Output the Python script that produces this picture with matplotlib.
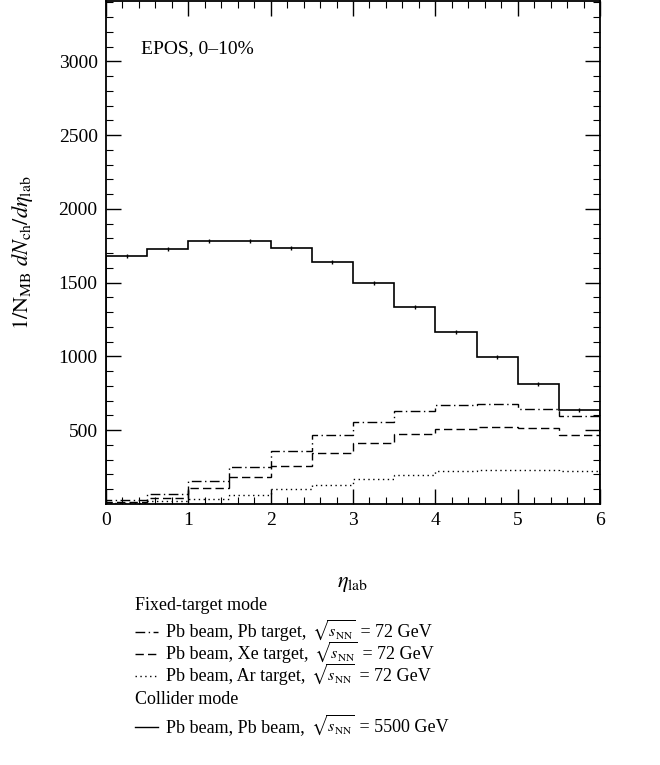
import numpy as np
import matplotlib
matplotlib.use('Agg')
import matplotlib.pyplot as plt
from matplotlib.lines import Line2D

plt.rcParams['font.family'] = ['Liberation Serif', 'DejaVu Serif']
plt.rcParams['mathtext.fontset'] = 'stix'
plt.rcParams['font.size'] = 13

# eta_lab bin edges (0.5 wide bins)
edges = np.arange(0, 6.01, 0.5)

# EPOS, 0-10% centrality
pbpb_collider = [1682, 1727, 1784, 1784, 1734, 1639, 1500, 1338, 1168, 998, 813, 636]
pbpb_fixed = [25, 70, 156, 251, 360, 471, 554, 627, 668, 675, 645, 595]
pbxe_fixed = [15, 43, 108, 183, 260, 346, 414, 473, 507, 520, 516, 471]
pbar_fixed = [8, 20, 31, 58, 99, 131, 169, 196, 226, 230, 228, 226]

fig = plt.figure(figsize=(6.6, 7.65), dpi=100)
ax = fig.add_axes([0.1606, 0.3412, 0.7485, 0.6575])

ax.stairs(pbpb_fixed, edges, color='black', lw=1.0, linestyle=(0, (7, 2.5, 1, 2.5)))
ax.stairs(pbxe_fixed, edges, color='black', lw=1.0, linestyle=(0, (6, 3)))
ax.stairs(pbar_fixed, edges, color='black', lw=1.0, linestyle=(0, (1, 2.5)))
ax.stairs(pbpb_collider, edges, color='black', lw=1.2)
centers = 0.5 * (edges[:-1] + edges[1:])
ax.plot(centers, pbpb_collider, '|', color='black', ms=3, mew=1.0)

ax.set_xlim(0, 6)
ax.set_ylim(0, 3410)
ax.set_xticks(range(0, 7))
ax.set_xticks(np.arange(0, 6.01, 0.2), minor=True)
ax.set_yticks(range(500, 3001, 500))
ax.set_yticks(range(100, 3401, 100), minor=True)
ax.tick_params(which='both', direction='in', top=True, right=True, labelsize=14)
ax.tick_params(which='major', length=11, width=1.0, pad=6)
ax.tick_params(which='minor', length=5, width=0.8)
for sp in ax.spines.values():
    sp.set_linewidth(1.3)

ax.set_xlabel(r'$\eta_{\mathrm{lab}}$', fontsize=16)
ax.set_ylabel(r'$1/\mathrm{N}_{\mathrm{MB}}\ dN_{\mathrm{ch}}/d\eta_{\mathrm{lab}}$', fontsize=16)
ax.xaxis.set_label_coords(0.5, -0.141)
ax.yaxis.set_label_coords(-0.143, 0.5)
ax.text(0.071, 0.905, 'EPOS, 0–10%', transform=ax.transAxes, fontsize=14, va='center')

# legend drawn below the axes, in pixel positions
W, H = 660.0, 765.0
def fx(px):
    return px / W
def fy(py):
    return 1 - py / H

renderer = fig.canvas.get_renderer()

def legend_row(py, ls, start, energy):
    fig.add_artist(Line2D([fx(135), fx(158)], [fy(py), fy(py)], color='black',
                          lw=1.0, linestyle=ls))
    x = 166
    parts = [(start, 13), (r'$\sqrt{s_{\mathrm{NN}}}$', 11.5), (' = ' + energy, 13)]
    for txt, size in parts:
        t = fig.text(fx(x), fy(py + 5), txt, fontsize=size, va='baseline', ha='left')
        x = t.get_window_extent(renderer).x1 + (6 if size == 13 else 0)

fig.text(fx(135), fy(605), 'Fixed-target mode', fontsize=13, va='center', ha='left')
legend_row(632, (0, (7, 2.5, 1, 2.5)), 'Pb beam, Pb target,', '72 GeV')
legend_row(654, (0, (6, 3)), 'Pb beam, Xe target,', '72 GeV')
legend_row(676, (0, (1, 2.5)), 'Pb beam, Ar target,', '72 GeV')
fig.text(fx(135), fy(699), 'Collider mode', fontsize=13, va='center', ha='left')
legend_row(727, '-', 'Pb beam, Pb beam,', '5500 GeV')

fig.savefig('out.png', dpi=100)
